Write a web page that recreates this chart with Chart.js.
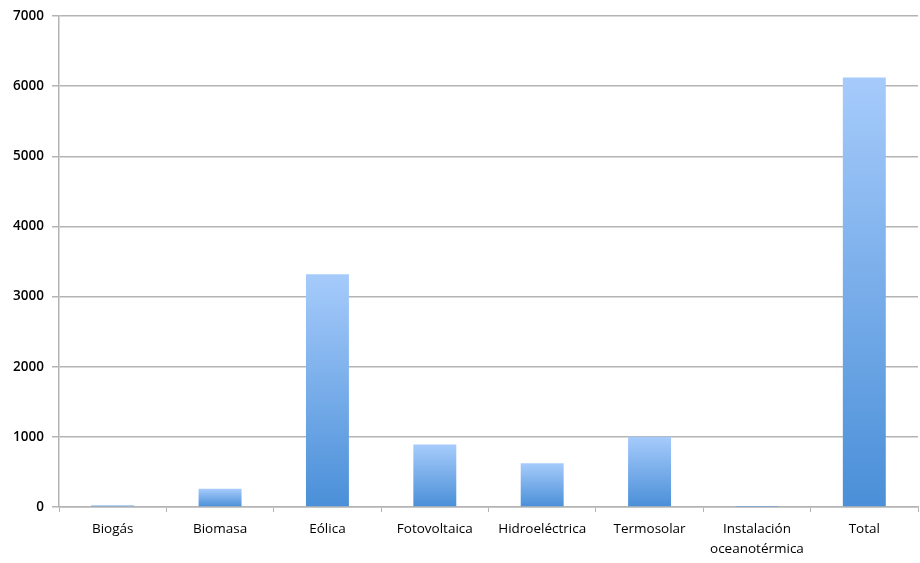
<!DOCTYPE html>
<html>
<head>
<meta charset="utf-8">
<script src="https://cdn.jsdelivr.net/npm/chart.js@4.4.1/dist/chart.umd.min.js"></script>
<style>
  html, body { margin: 0; padding: 0; background: #fff; }
  #wrap { width: 920px; height: 563px; }
</style>
</head>
<body>
<div id="wrap"><canvas id="myChart"></canvas></div>
<script>
// categories and installed capacity values
const labels = [
    "Biogás",
    "Biomasa",
    "Eólica",
    "Fotovoltaica",
    "Hidroeléctrica",
    "Termosolar",
    ["Instalación", "oceanotérmica"],
    "Total",
];
const values = [25, 260, 3320, 890, 625, 1000, 5, 6125];

const yMax = 7000;
const yStep = 1000;

// each bar fades from light blue at its top to a deeper blue at the base
function barGradient(context) {
    const chart = context.chart;
    const y = chart.scales.y;
    if (!y || !chart.chartArea) return "#7aaeec";
    const top = y.getPixelForValue(context.raw);
    const base = y.getPixelForValue(0);
    if (!isFinite(top) || base - top < 1) return "#5b9be0";
    const g = chart.ctx.createLinearGradient(0, top, 0, base);
    g.addColorStop(0, "#a6cbfb");
    g.addColorStop(1, "#4a8fd8");
    return g;
}

const data = {
    labels: labels,
    datasets: [
        {
            data: values,
            backgroundColor: barGradient,
            borderWidth: 0,
            barPercentage: 0.4,
            categoryPercentage: 1,
        },
    ],
};

const tickFont = { family: "'Open Sans', sans-serif", size: 13.5, lineHeight: 1.5 };

const config = {
    type: "bar",
    data,
    options: {
        responsive: true,
        maintainAspectRatio: false,
        animation: false,
        layout: { padding: { top: 8, right: 2, left: 4, bottom: 0 } },
        plugins: {
            legend: { display: false },
            tooltip: { enabled: false },
        },
        scales: {
            x: {
                afterFit: function (scale) {
                    // keep the x axis band a fixed height
                    scale.height = 56;
                },
                grid: {
                    offset: true,
                    drawOnChartArea: false,
                    drawTicks: true,
                    tickLength: 5,
                    color: "#b4b4b4",
                    lineWidth: 1,
                },
                border: { color: "#b4b4b4", width: 1.5 },
                ticks: {
                    color: "#000",
                    font: tickFont,
                    padding: 7,
                    maxRotation: 0,
                    autoSkip: false,
                },
            },
            y: {
                min: 0,
                max: yMax,
                afterFit: function (scale) {
                    scale.width = 55;
                },
                grid: {
                    color: "#b4b4b4",
                    lineWidth: 1.5,
                    tickLength: 7,
                },
                border: { color: "#b4b4b4", width: 1.5 },
                ticks: {
                    stepSize: yStep,
                    color: "#000",
                    padding: 8,
                    font: { family: "'Open Sans', sans-serif", size: 13.5, weight: "600" },
                    callback: function (v) {
                        return String(v);
                    },
                },
            },
        },
    },
};

var myChart = new Chart(document.getElementById("myChart"), config);
</script>
</body>
</html>
